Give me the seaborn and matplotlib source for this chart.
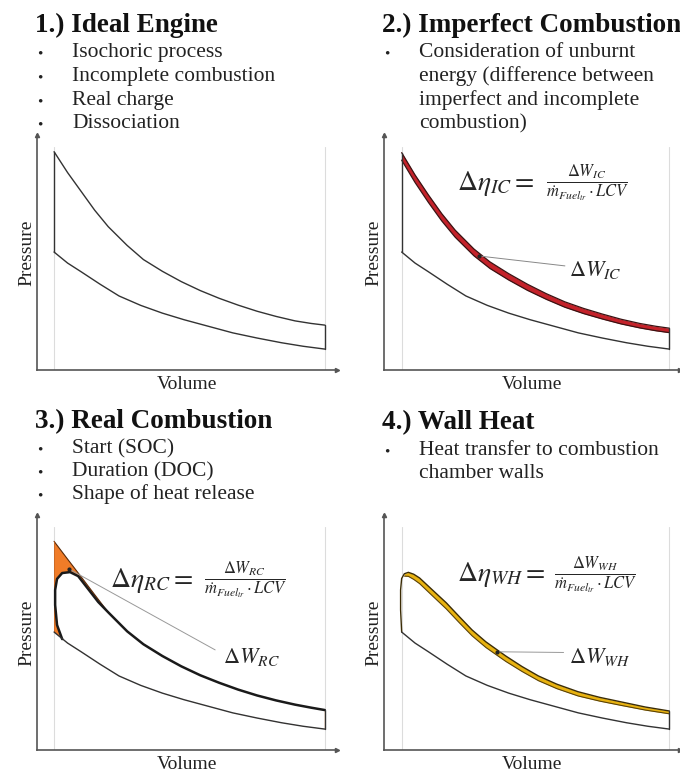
import matplotlib
matplotlib.use('Agg')
import matplotlib.pyplot as plt
import seaborn as sns

# Werte: Volumen in % Hub, Druck in willk. Einheiten (0..100)
# Kompressionslinie (in allen vier Diagrammen gleich)
comp_v = [0, 5, 10, 17, 24, 32, 40, 48, 57, 66, 75, 84, 92, 100]
comp_p = [50.2, 45.5, 41.8, 36.5, 31.5, 27.5, 24.2, 21.4, 18.6, 15.8, 13.6, 11.6, 10.1, 8.9]

# Expansionslinien
exp_v = [0, 5, 10, 15, 20, 27, 33, 40, 47, 54, 61, 68, 75, 82, 89, 95, 100]
ideal_p = [92.9, 84.0, 76.0, 68.0, 61.0, 53.0, 47.0, 42.0, 37.6, 33.8, 30.5, 27.6, 25.0, 22.8, 20.9, 19.8, 19.1]

# 2.) unvollkommene Verbrennung
complete_p = [92.5, 83.0, 74.5, 66.5, 59.5, 51.5, 46.0, 41.0, 36.5, 32.5, 29.0, 26.2, 23.8, 21.6, 19.8, 18.6, 17.8]
imperfect_p = [89.3, 79.8, 71.3, 63.4, 56.5, 48.6, 43.2, 38.3, 33.9, 30.1, 26.7, 24.0, 21.7, 19.6, 17.9, 16.7, 15.9]

# 3.) reale Verbrennung
isochoric_p = [88.8, 81.2, 73.7, 66.1, 58.6, 50.5, 45.0, 40.0, 35.6, 31.8, 28.6, 25.7, 23.2, 21.1, 19.3, 18.0, 17.0]
rc_v = [3.0, 1.1, 0.4, 0.4, 1.1, 3.0, 5.9, 8.9, 12.6, 16.3]
rc_p = [47.2, 53.2, 61.7, 68.1, 72.8, 75.3, 75.7, 74.0, 68.5, 63.0]

# 4.) Wandwaerme
wh_left_v = [0.0, -0.4, -0.4, 0.0]
wh_left_p = [50.2, 59.6, 68.1, 73.0]
wh_v = [1.0, 2.5, 4.5, 6.7, 11.5, 16.7, 21.5, 26.3, 31.5, 38.9, 45, 51.1, 58, 65.9, 74, 81.9, 91, 100]
wh_adiabatic_p = [75.0, 75.6, 74.8, 73.2, 68.1, 62.6, 56.8, 51.1, 46.0, 40.0, 35.5, 31.5, 28.0, 24.8, 22.4, 20.5, 18.3, 16.6]
wh_real_p = [74.0, 73.9, 72.6, 70.8, 65.6, 60.0, 54.2, 48.6, 43.6, 37.7, 33.4, 29.5, 26.1, 23.0, 20.8, 19.0, 17.0, 15.4]

titles = ['1.) Ideal Engine', '2.) Imperfect Combustion', '3.) Real Combustion', '4.) Wall Heat']

sns.set_theme(style='white')
plt.rcParams['font.family'] = ['Liberation Serif', 'DejaVu Serif']
plt.rcParams['mathtext.fontset'] = 'stix'

W, H = 680, 772
fig = plt.figure(figsize=(W / 100, H / 100), dpi=100)


def px(x, y):
    return x / W, 1 - y / H


def panel(left, bottom, width, xlim):
    ax = fig.add_axes([left / W, 1 - bottom / H, width / W, 235 / H])
    ax.set_xlim(*xlim)
    ax.set_ylim(0, 100)
    sns.despine(ax=ax)
    for s in ['left', 'bottom']:
        ax.spines[s].set_color('#555555')
        ax.spines[s].set_linewidth(1.2)
    ax.plot(1, 0, '>', color='#555555', ms=3, transform=ax.transAxes, clip_on=False)
    ax.plot(0, 1, '^', color='#555555', ms=3, transform=ax.transAxes, clip_on=False)
    ax.set_xticks([])
    ax.set_yticks([])
    ax.set_xlabel('Volume', fontsize=14, labelpad=4, color='#222222')
    ax.set_ylabel('Pressure', fontsize=14, labelpad=1, color='#222222')
    ax.axvline(0, ymax=0.95, color='#dcdcdc', lw=0.8, zorder=0)
    ax.axvline(100, ymax=0.95, color='#dcdcdc', lw=0.8, zorder=0)
    return ax


def line(ax, x, y, lw=1.0, color='#333333'):
    sns.lineplot(x=x, y=y, ax=ax, sort=False, estimator=None, color=color, lw=lw)


def formula(ax, x, x_frac, y, sub):
    ax.text(x, y, r'$\Delta\eta_{%s} =$' % sub, fontsize=20, va='center')
    ax.text(x_frac, y, r'$\frac{\Delta W_{%s}}{\dot{m}_{Fuel_{tr}}\cdot LCV}$' % sub,
            fontsize=17, va='center')


def text_block(x, y, title, bullets, conts=()):
    fig.text(*px(x, y), title, fontsize=19.5, fontweight='bold', color='#111111')
    for b, t in bullets:
        fig.text(*px(x + 2, t), '•', fontsize=11, color='#222222')
        fig.text(*px(x + 37, t), b, fontsize=15.5, color='#222222')
    for b, t in conts:
        fig.text(*px(x + 37, t), b, fontsize=15.5, color='#222222')


lx = (-6.3, 104.5)
rx = (-6.6, 104.0)

# ---------- 1.) ideal
ax1 = panel(37, 370, 300, lx)
line(ax1, exp_v, ideal_p)
line(ax1, comp_v, comp_p)
line(ax1, [0, 0], [comp_p[0], ideal_p[0]])
line(ax1, [100, 100], [comp_p[-1], ideal_p[-1]])

# ---------- 2.) imperfect
ax2 = panel(384, 370, 296, rx)
ax2.fill_between(exp_v, imperfect_p, complete_p, color='#c4222a', lw=0)
line(ax2, exp_v, complete_p, lw=0.9, color='#3a1212')
line(ax2, exp_v, imperfect_p, lw=0.9, color='#3a1212')
line(ax2, comp_v, comp_p)
line(ax2, [0, 0], [comp_p[0], complete_p[0]])
line(ax2, [100, 100], [comp_p[-1], complete_p[-1]])
ax2.plot([29, 61], [48.5, 44.3], color='#888888', lw=0.7)
ax2.plot([29], [48.5], 'o', color='#222222', ms=2)
ax2.text(62.5, 42.5, r'$\Delta W_{IC}$', fontsize=16, va='center')
formula(ax2, 20.5, 54.0, 79.5, 'IC')

# ---------- 3.) real combustion
ax3 = panel(37, 750, 300, lx)
ideal_x = exp_v + [100] + comp_v[::-1]
ideal_y = isochoric_p + [comp_p[-1]] + comp_p[::-1]
ax3.fill(ideal_x, ideal_y, color='#f07c28', lw=0)
real_x = rc_v + exp_v[4:] + comp_v[::-1][:-1]
real_y = rc_p + isochoric_p[4:] + comp_p[::-1][:-1]
ax3.fill(real_x, real_y, color='white', lw=0)
line(ax3, exp_v[:5], isochoric_p[:5], lw=0.8, color='#5a2a08')
line(ax3, [0, 0], [comp_p[0], isochoric_p[0]], lw=0.5, color='#c06020')
line(ax3, rc_v + exp_v[4:], rc_p + isochoric_p[4:], lw=1.8, color='#1a1a1a')
line(ax3, comp_v, comp_p)
line(ax3, [100, 100], [comp_p[-1], isochoric_p[-1]])
ax3.plot([5.7, 59.5], [76.9, 42.6], color='#999999', lw=0.7)
ax3.plot([5.7], [76.9], 'o', color='#222222', ms=2)
ax3.text(62.5, 39.5, r'$\Delta W_{RC}$', fontsize=16, va='center')
formula(ax3, 20.5, 55.5, 72.3, 'RC')

# ---------- 4.) wall heat
ax4 = panel(384, 750, 296, rx)
ax4.fill_between(wh_v, wh_real_p, wh_adiabatic_p, color='#e8b210', lw=0)
line(ax4, wh_left_v + wh_v, wh_left_p + wh_adiabatic_p, lw=1.0, color='#3b2c05')
line(ax4, wh_v, wh_real_p, lw=0.8, color='#5a4208')
line(ax4, comp_v, comp_p)
line(ax4, [100, 100], [comp_p[-1], wh_adiabatic_p[-1]])
ax4.plot([35.6, 60.5], [41.8, 41.5], color='#999999', lw=0.7)
ax4.plot([35.6], [41.8], 'o', color='#222222', ms=2)
ax4.text(62.5, 39.5, r'$\Delta W_{WH}$', fontsize=16, va='center')
formula(ax4, 20.5, 57.0, 74.5, 'WH')

# ---------- Titel und Stichpunkte
text_block(35, 32, titles[0],
           [('Isochoric process', 57), ('Incomplete combustion', 81),
            ('Real charge', 105), ('Dissociation', 128)])
text_block(382, 32, titles[1],
           [('Consideration of unburnt', 57)],
           [('energy (difference between', 81), ('imperfect and incomplete', 105),
            ('combustion)', 128)])
text_block(35, 428, titles[2],
           [('Start (SOC)', 453), ('Duration (DOC)', 476), ('Shape of heat release', 499)])
text_block(382, 429, titles[3],
           [('Heat transfer to combustion', 455)],
           [('chamber walls', 478)])

fig.savefig('out.png', dpi=100)
